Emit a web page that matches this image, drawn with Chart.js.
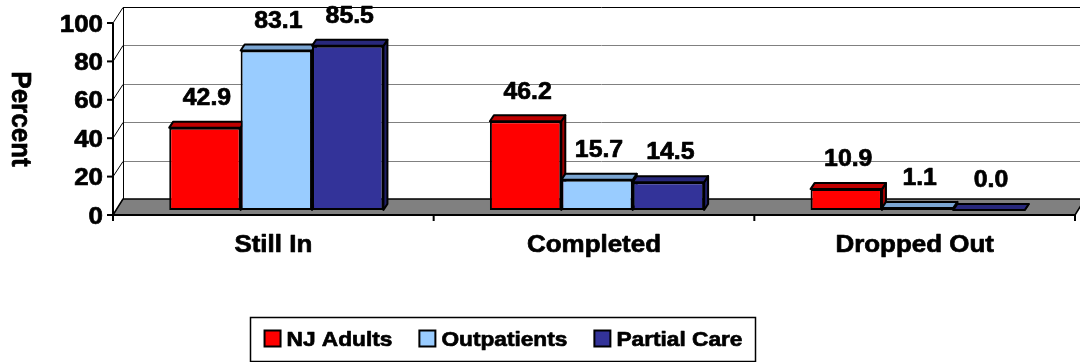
<!DOCTYPE html>
<html><head><meta charset="utf-8">
<script src="https://cdn.jsdelivr.net/npm/chart.js@4/dist/chart.umd.min.js"></script>
<style>html,body{margin:0;padding:0;background:#fff;overflow:hidden}#wrap{width:1080px;height:362px;position:relative}</style>
</head><body><div id="wrap"><canvas id="c" width="1080" height="362"></canvas></div>
<script>
// ---- data ----
const categories = ['Still In', 'Completed', 'Dropped Out'];
const seriesNames = ['NJ Adults', 'Outpatients', 'Partial Care'];
const njAdults = [42.9, 46.2, 10.9];
const outpatients = [83.1, 15.7, 1.1];
const partialCare = [85.5, 14.5, 0.0];
const yTicks = [0, 20, 40, 60, 80, 100];
const yTitle = 'Percent';

// ---- styles ----
const FRONT_COLORS = ['#FF0000', '#99CCFF', '#333399'];
const TOP_COLORS = ['#C00000', '#7AA5D2', '#28287C'];
const SIDE_COLORS = ['#A00000', '#6F95BE', '#1F1F66'];
const FONT = '"Liberation Sans", Arial, sans-serif';
const SX = 1.08;            // horizontal text stretch
const DX = 4, DY = 6;       // bar depth
const FRONT = {x: -3, y: 5};
const BACK = {x: 7, y: -11};

function txt(ctx, s, x, y, size, align, rot) {
  ctx.save();
  ctx.translate(x, y);
  ctx.scale(SX, 1);
  if (rot) ctx.rotate(rot);
  ctx.font = 'bold ' + size + 'px ' + FONT;
  ctx.fillStyle = '#000';
  ctx.strokeStyle = '#000';
  ctx.lineWidth = 0.7;
  ctx.lineJoin = 'round';
  ctx.textAlign = align || 'center';
  ctx.textBaseline = 'alphabetic';
  ctx.fillText(s, 0, size * 0.358);
  ctx.strokeText(s, 0, size * 0.358);
  ctx.restore();
}
function poly(ctx, pts, fill, stroke, lw) {
  ctx.beginPath();
  ctx.moveTo(pts[0][0], pts[0][1]);
  for (let i = 1; i < pts.length; i++) ctx.lineTo(pts[i][0], pts[i][1]);
  ctx.closePath();
  if (fill) { ctx.fillStyle = fill; ctx.fill(); }
  if (stroke) { ctx.strokeStyle = stroke; ctx.lineWidth = lw || 1; ctx.stroke(); }
}

const threeD = {
  id: 'threeD',
  beforeDatasetsDraw(chart) {
    const ctx = chart.ctx, ca = chart.chartArea, ys = chart.scales.y;
    const W = chart.width;
    ctx.save();
    ctx.lineJoin = 'round';
    const y0 = ys.getPixelForValue(0);
    yTicks.forEach(v => {
      const yb = Math.round(ys.getPixelForValue(v) + BACK.y) + 0.5;
      const yf = ys.getPixelForValue(v) + FRONT.y;
      ctx.beginPath();
      ctx.moveTo(ca.left + BACK.x, yb); ctx.lineTo(W, yb);
      ctx.strokeStyle = v === yTicks[yTicks.length - 1] ? '#000' : '#808080';
      ctx.lineWidth = 1; ctx.stroke();
      ctx.beginPath();
      ctx.moveTo(ca.left + FRONT.x, yf); ctx.lineTo(ca.left + BACK.x, yb);
      ctx.strokeStyle = '#000'; ctx.lineWidth = 1; ctx.stroke();
    });
    ctx.beginPath();
    ctx.moveTo(ca.left + BACK.x + 0.5, ys.getPixelForValue(100) + BACK.y);
    ctx.lineTo(ca.left + BACK.x + 0.5, y0 + BACK.y);
    ctx.strokeStyle = '#000'; ctx.lineWidth = 1; ctx.stroke();
    poly(ctx, [
      [ca.left + FRONT.x, y0 + FRONT.y], [ca.right + FRONT.x, y0 + FRONT.y],
      [ca.right + BACK.x, y0 + BACK.y], [ca.left + BACK.x, y0 + BACK.y]
    ], '#808080', '#000', 1.5);
    const metas = chart.data.datasets.map((d, i) => chart.getDatasetMeta(i));
    metas.forEach((m, di) => m.data.forEach(el => {
      const r = el.x + el.width / 2, t = el.y, b = el.base;
      poly(ctx, [[r, t], [r + DX, t - DY], [r + DX, b - DY], [r, b]], SIDE_COLORS[di], '#000', 2);
    }));
    metas.forEach((m, di) => m.data.forEach(el => {
      const l = el.x - el.width / 2, r = el.x + el.width / 2, t = el.y;
      poly(ctx, [[l, t], [l + DX, t - DY], [r + DX, t - DY], [r, t]], TOP_COLORS[di], '#000', 2);
    }));
    ctx.restore();
  },
  afterDatasetsDraw(chart) {
    const ctx = chart.ctx;
    chart.data.datasets.forEach((d, di) => {
      chart.getDatasetMeta(di).data.forEach((el, i) => {
        txt(ctx, d.data[i].toFixed(1), el.x + 2, el.y - 31, 23, 'center');
      });
    });
  },
  afterDraw(chart) {
    const ctx = chart.ctx, ca = chart.chartArea, ys = chart.scales.y, xs = chart.scales.x;
    const y0 = ys.getPixelForValue(0);
    const fx = ca.left + FRONT.x, fy0 = y0 + FRONT.y;
    ctx.save();
    ctx.strokeStyle = '#000';
    ctx.lineWidth = 2;
    ctx.beginPath();
    ctx.moveTo(fx, ys.getPixelForValue(100) + FRONT.y); ctx.lineTo(fx, fy0);
    ctx.stroke();
    yTicks.forEach(v => {
      const yf = ys.getPixelForValue(v) + FRONT.y;
      ctx.strokeStyle = '#000'; ctx.lineWidth = 2;
      ctx.beginPath(); ctx.moveTo(fx - 6, yf); ctx.lineTo(fx, yf); ctx.stroke();
      txt(ctx, String(v), fx - 10, yf, 24, 'right');
    });
    ctx.strokeStyle = '#000'; ctx.lineWidth = 2;
    ctx.beginPath();
    ctx.moveTo(fx, fy0); ctx.lineTo(ca.right + FRONT.x, fy0); ctx.stroke();
    const catW = (ca.right - ca.left) / categories.length;
    for (let i = 0; i <= categories.length; i++) {
      const tx = fx + i * catW;
      ctx.beginPath(); ctx.moveTo(tx, fy0); ctx.lineTo(tx, fy0 + 6); ctx.stroke();
    }
    categories.forEach((c, i) => {
      txt(ctx, c, xs.getPixelForValue(i) + FRONT.x, 243, 24, 'center');
    });
    txt(ctx, yTitle, 22, (ys.getPixelForValue(50) + FRONT.y), 26, 'center', Math.PI / 2);
    // legend
    const lx = 250, ly = 317, lw = 505, lh = 44;
    ctx.strokeStyle = '#000';
    ctx.lineWidth = 1.5;
    ctx.strokeRect(lx + 0.5, ly + 0.5, lw, lh);
    const size = 21, sq = 16, gapT = 6, gapI = 27;
    ctx.font = 'bold ' + size + 'px ' + FONT;
    const widths = seriesNames.map(s => ctx.measureText(s).width * SX);
    const total = widths.reduce((a, w) => a + sq + gapT + w, 0) + gapI * (seriesNames.length - 1);
    let x = lx + lw / 2 - total / 2 + 1;
    const cy = ly + 21.5;
    seriesNames.forEach((s, i) => {
      ctx.fillStyle = FRONT_COLORS[i];
      ctx.fillRect(x, cy - sq / 2, sq, sq);
      ctx.lineWidth = 2; ctx.strokeStyle = '#000';
      ctx.strokeRect(x, cy - sq / 2, sq, sq);
      txt(ctx, s, x + sq + gapT, cy, size, 'left');
      x += sq + gapT + widths[i] + gapI;
    });
    ctx.restore();
  }
};

const seriesValues = [njAdults, outpatients, partialCare];
new Chart(document.getElementById('c'), {
  type: 'bar',
  data: {
    labels: categories,
    datasets: seriesNames.map((n, i) => ({
      label: n,
      data: seriesValues[i],
      backgroundColor: FRONT_COLORS[i],
      borderColor: '#000',
      borderWidth: 2,
      borderSkipped: false,
      categoryPercentage: 0.668,
      barPercentage: 1.0
    }))
  },
  options: {
    responsive: false,
    animation: false,
    devicePixelRatio: 1,
    layout: {padding: {left: 116, right: 2, top: 18, bottom: 152}},
    scales: {
      x: {display: false},
      y: {display: false, min: 0, max: 100}
    },
    plugins: {legend: {display: false}, tooltip: {enabled: false}}
  },
  plugins: [threeD]
});
</script></body></html>
